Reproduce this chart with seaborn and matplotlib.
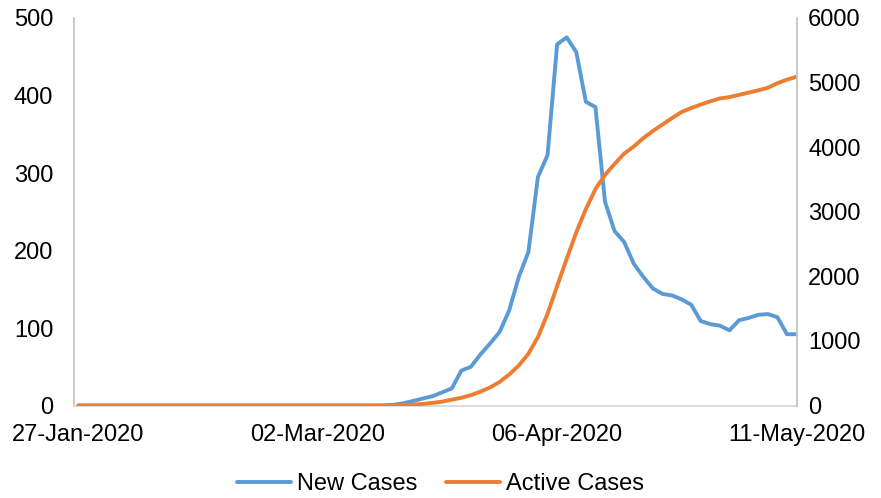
import matplotlib
matplotlib.use("Agg")
import matplotlib.pyplot as plt
import seaborn as sns
import pandas as pd

# ---- data ----
tick_labels = ["27-Jan-2020", "02-Mar-2020", "06-Apr-2020", "11-May-2020"]

new_cases = [0, 0, 0, 0, 0, 0, 0, 0, 0, 0,
             0, 0, 0, 0, 0, 0, 0, 0, 0, 0,
             0, 0, 0, 0, 0, 0, 0, 0, 0, 0,
             0, 0, 0, 1, 3, 6, 9, 12, 17, 22,
             45, 50, 66, 80, 95, 123, 166, 198, 295, 323,
             466, 475, 456, 392, 385, 263, 225, 211, 183, 166,
             151, 144, 142, 137, 130, 109, 105, 103, 97, 110,
             113, 117, 118, 114, 92, 92]

active_cases = [0, 0, 0, 0, 0, 0, 0, 0, 0, 0,
                0, 0, 0, 0, 0, 0, 0, 0, 0, 0,
                0, 0, 0, 0, 0, 0, 0, 0, 0, 0,
                0, 0, 2, 5, 10, 15, 25, 40, 60, 90,
                120, 160, 215, 280, 365, 480, 620, 800, 1060, 1420,
                1850, 2270, 2680, 3040, 3350, 3570, 3740, 3900, 4010, 4140,
                4250, 4350, 4450, 4545, 4605, 4660, 4710, 4755, 4775, 4810,
                4845, 4880, 4920, 4990, 5045, 5090]

df = pd.DataFrame({"idx": list(range(len(new_cases))),
                   "New Cases": new_cases,
                   "Active Cases": active_cases})

sns.set_style("white")
plt.rcParams["font.family"] = ["Liberation Sans", "DejaVu Sans"]
plt.rcParams["text.color"] = "black"

BLUE = "#5B9BD5"
ORANGE = "#ED7D31"
FS = 17

fig = plt.figure(figsize=(8.81, 4.98), dpi=100)
ax = fig.add_axes([74 / 881, 1 - 405.5 / 498, (797 - 74) / 881, (405.5 - 18) / 498])
ax2 = ax.twinx()

sns.lineplot(data=df, x="idx", y="New Cases", ax=ax, color=BLUE, lw=2.8, legend=False)
sns.lineplot(data=df, x="idx", y="Active Cases", ax=ax2, color=ORANGE, lw=2.8, legend=False)

n = len(new_cases)
ax.set_xlim(-0.45, n - 1 + 0.05)
ax.set_ylim(0, 500)
ax2.set_ylim(0, 6000)
ax.set_yticks(range(0, 501, 100))
ax2.set_yticks(range(0, 6001, 1000))
ax.set_xticks([0, 25, 50, 75])
ax.set_xticklabels(tick_labels)

for a in (ax, ax2):
    a.set_xlabel("")
    a.set_ylabel("")
    a.grid(False)
    for s in a.spines.values():
        s.set_visible(False)

ax.spines["left"].set_visible(True)
ax.spines["left"].set_color("#C4C4C4")
ax.spines["left"].set_linewidth(1.3)
ax.spines["bottom"].set_visible(True)
ax.spines["bottom"].set_color("#D9D9D9")
ax.spines["bottom"].set_linewidth(1.3)
ax2.spines["right"].set_visible(True)
ax2.spines["right"].set_color("#C4C4C4")
ax2.spines["right"].set_linewidth(1.3)

ax.tick_params(axis="x", length=0, pad=13, labelsize=FS, labelcolor="black")
ax.tick_params(axis="y", length=0, pad=15, labelsize=FS, labelcolor="black")
ax2.tick_params(axis="y", length=0, pad=8, labelsize=FS, labelcolor="black")

handles = [ax.lines[0], ax2.lines[0]]
leg = fig.legend(handles, ["New Cases", "Active Cases"], loc="center",
                 bbox_to_anchor=(0.5, 1 - 484 / 498), ncol=2, frameon=False,
                 fontsize=FS, handlelength=2.3, handletextpad=0.25,
                 columnspacing=1.2)
for t in leg.get_texts():
    t.set_color("black")

fig.savefig("out.png", dpi=100)
